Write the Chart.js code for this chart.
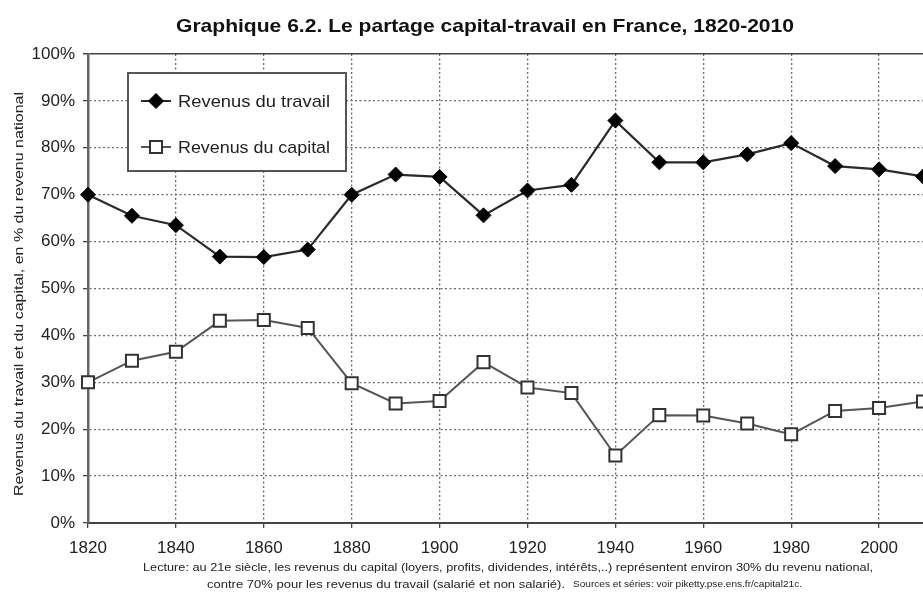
<!DOCTYPE html>
<html>
<head>
<meta charset="utf-8">
<title>Graphique 6.2</title>
<script src="https://cdn.jsdelivr.net/npm/chart.js@4.4.1/dist/chart.umd.min.js"></script>
<style>
  html, body { margin: 0; padding: 0; background: #fff; overflow: hidden; }
  #wrap { width: 923px; height: 592px; }
</style>
</head>
<body>
<div id="wrap"><canvas id="chart" width="923" height="592"></canvas></div>
<script>
// Données (en % du revenu national)
const years = [1820, 1830, 1840, 1850, 1860, 1870, 1880, 1890, 1900, 1910,
               1920, 1930, 1940, 1950, 1960, 1970, 1980, 1990, 2000, 2010];
const laborShare = [70, 65.5, 63.5, 56.8, 56.7, 58.3, 70, 74.3, 73.8, 65.6,
                    70.9, 72.1, 85.8, 76.9, 76.9, 78.6, 81, 76.1, 75.4, 73.9];
const capitalShare = [30, 34.6, 36.5, 43.1, 43.3, 41.6, 29.8, 25.5, 26, 34.3,
                      28.9, 27.7, 14.4, 23, 22.9, 21.2, 18.9, 23.9, 24.5, 25.9];

const seriesNames = ['Revenus du travail', 'Revenus du capital'];
const titleText = 'Graphique 6.2. Le partage capital-travail en France, 1820-2010';
const yAxisTitle = 'Revenus du travail et du capital, en % du revenu national';
const noteLine1 = 'Lecture: au 21e siècle, les revenus du capital (loyers, profits, dividendes, intérêts,..) représentent environ 30% du revenu national,';
const noteLine2 = 'contre 70% pour les revenus du travail (salarié et non salarié).';
const noteSources = 'Sources et séries: voir piketty.pse.ens.fr/capital21c.';

const FONT = '"Liberation Sans", Arial, sans-serif';

function toPoints(values) {
  return years.map((yr, i) => ({ x: yr, y: values[i] }));
}

// texte compressé horizontalement pour tenir dans une largeur donnée
function fitText(ctx, text, x, y, width) {
  const w = ctx.measureText(text).width;
  ctx.save();
  ctx.translate(x, y);
  ctx.scale(width / w, 1);
  ctx.fillText(text, 0, 0);
  ctx.restore();
}

function drawMarker(ctx, style, x, y, r) {
  ctx.beginPath();
  if (style === 'rectRot') {
    ctx.moveTo(x, y - r);
    ctx.lineTo(x + r, y);
    ctx.lineTo(x, y + r);
    ctx.lineTo(x - r, y);
  } else {
    const s = r * Math.SQRT1_2;
    ctx.rect(x - s, y - s, 2 * s, 2 * s);
  }
  ctx.closePath();
}

const textPlugin = {
  id: 'textes',
  afterDraw(chart) {
    const ctx = chart.ctx;
    ctx.save();
    ctx.fillStyle = '#111';
    ctx.textBaseline = 'middle';
    ctx.textAlign = 'left';
    ctx.font = 'bold 19px ' + FONT;
    fitText(ctx, titleText, 176, 27, 618);

    // titre de l'axe vertical
    ctx.save();
    ctx.translate(19, 294);
    ctx.rotate(-Math.PI / 2);
    ctx.fillStyle = '#222';
    ctx.font = '13.5px ' + FONT;
    fitText(ctx, yAxisTitle, -202, 0, 404);
    ctx.restore();

    ctx.fillStyle = '#222';
    ctx.font = '11px ' + FONT;
    fitText(ctx, noteLine1, 143, 568, 730);
    fitText(ctx, noteLine2, 207, 585, 358);
    ctx.font = '9px ' + FONT;
    fitText(ctx, noteSources, 573, 585, 229);

    // légende
    const bx = 128, by = 73, bw = 218, bh = 98;
    ctx.fillStyle = '#fff';
    ctx.fillRect(bx, by, bw, bh);
    ctx.strokeStyle = '#555';
    ctx.lineWidth = 2;
    ctx.strokeRect(bx, by, bw, bh);

    const rows = [101, 147];
    chart.data.datasets.forEach((ds, i) => {
      const y = rows[i];
      ctx.strokeStyle = ds.borderColor;
      ctx.lineWidth = 2;
      ctx.beginPath();
      ctx.moveTo(141, y);
      ctx.lineTo(171, y);
      ctx.stroke();
      drawMarker(ctx, ds.pointStyle, 156, y, ds.pointRadius);
      ctx.fillStyle = ds.pointBackgroundColor;
      ctx.fill();
      ctx.lineWidth = ds.pointBorderWidth;
      ctx.strokeStyle = ds.pointBorderColor;
      ctx.stroke();
      ctx.fillStyle = '#222';
      ctx.font = '17px ' + FONT;
      fitText(ctx, ds.label, 178, y + 1, 152);
    });
    ctx.restore();
  }
};

const isTop = c => c.tick && c.tick.value === 100;
const DOTS = [2, 2.5];

new Chart(document.getElementById('chart'), {
  type: 'line',
  data: {
    datasets: [
      {
        label: seriesNames[0],
        data: toPoints(laborShare),
        borderColor: '#2a2a2a',
        borderWidth: 2.2,
        pointStyle: 'rectRot',
        pointRadius: 7.5,
        pointBackgroundColor: '#000',
        pointBorderColor: '#000',
        pointBorderWidth: 1,
        tension: 0,
        clip: false
      },
      {
        label: seriesNames[1],
        data: toPoints(capitalShare),
        borderColor: '#555',
        borderWidth: 2,
        pointStyle: 'rect',
        pointRadius: 8.5,
        pointBackgroundColor: '#fff',
        pointBorderColor: '#333',
        pointBorderWidth: 2,
        tension: 0,
        clip: false
      }
    ]
  },
  options: {
    responsive: false,
    animation: false,
    layout: { autoPadding: false, padding: { top: 54, right: -3, bottom: 0, left: 0 } },
    plugins: {
      legend: { display: false },
      title: { display: false },
      tooltip: { enabled: false }
    },
    scales: {
      x: {
        type: 'linear',
        min: 1820,
        max: 2010,
        afterFit: scale => { scale.height = 69; },
        ticks: {
          stepSize: 20,
          includeBounds: false,
          padding: 10,
          color: '#222',
          font: { family: FONT, size: 17 },
          callback: v => String(v)
        },
        grid: {
          color: '#6a6a6a',
          lineWidth: 1.3,
          tickLength: 5,
          tickColor: '#444'
        },
        border: { display: true, color: '#444', width: 2, dash: DOTS }
      },
      y: {
        min: 0,
        max: 100,
        afterFit: scale => { scale.width = 88; },
        ticks: {
          stepSize: 10,
          padding: 8,
          color: '#222',
          font: { family: FONT, size: 17 },
          callback: v => v + '%'
        },
        grid: {
          color: c => isTop(c) ? '#444' : '#6a6a6a',
          lineWidth: c => isTop(c) ? 1.5 : 1.3,
          tickLength: 5,
          tickColor: '#444'
        },
        border: {
          display: true,
          color: '#666',
          width: 2.5,
          dash: c => isTop(c) ? [] : DOTS
        }
      }
    }
  },
  plugins: [textPlugin]
});
</script>
</body>
</html>
